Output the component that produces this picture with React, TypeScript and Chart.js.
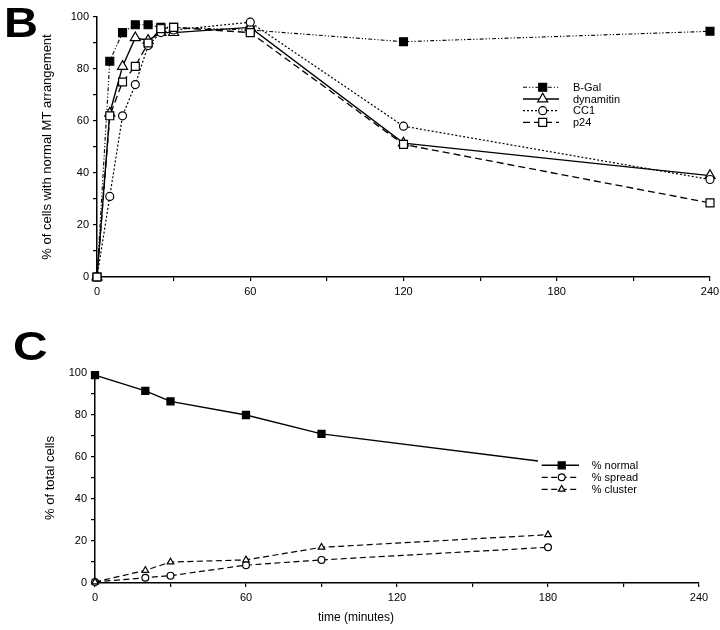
import React, { useEffect, useRef } from 'react';
import { Chart, registerables } from 'chart.js';

Chart.register(...registerables);

// ---------- Panel B data ----------
const timesB = [0, 5, 10, 15, 20, 25, 30, 60, 120, 240];
const bGal = [0, 83, 94, 97, 97, 96, 96, 95, 90.5, 94.5];
const dynamitin = [0, 63, 81, 92, 91, 94, 94, 96, 51.5, 39];
const cc1 = [0, 31, 62, 74, 89, 94, 95, 98, 58, 37.5];
const p24 = [0, 62, 75, 81, 90, 95.5, 96, 94, 51, 28.5];

// ---------- Panel C data ----------
const timesC = [0, 20, 30, 60, 90, 180];
const normal = [99, 91.5, 86.5, 80, 71, 57.5];
const spread = [0.5, 2.5, 3.5, 8.5, 11, 17];
const cluster = [0.5, 6, 10, 11, 17, 23];

// ---------- ticks ----------
const xLabelTicks = [0, 60, 120, 180, 240];
const yLabelTicks = [0, 20, 40, 60, 80, 100];

const FONT = '"Liberation Sans", Arial, Helvetica, sans-serif';

function pts(xs: number[], ys: number[]) {
  return xs.map((x, i) => ({ x, y: ys[i] }));
}

function drawMarker(ctx: CanvasRenderingContext2D, style: string, x: number, y: number, r: number, fill: string) {
  ctx.save();
  ctx.setLineDash([]);
  ctx.lineWidth = 1.2;
  ctx.strokeStyle = '#000';
  ctx.fillStyle = fill;
  ctx.beginPath();
  if (style === 'rect') {
    const s = Math.SQRT1_2 * r;
    ctx.rect(x - s, y - s, 2 * s, 2 * s);
  } else if (style === 'circle') {
    ctx.arc(x, y, r, 0, Math.PI * 2);
  } else if (style === 'triangle') {
    const h = r * 1.5;
    const w = r * Math.sqrt(3);
    ctx.moveTo(x, y - r);
    ctx.lineTo(x + w / 2, y - r + h);
    ctx.lineTo(x - w / 2, y - r + h);
    ctx.closePath();
  }
  ctx.fill();
  ctx.stroke();
  ctx.restore();
}

type LegendOpts = {
  box: [number, number, number, number];
  x0: number; x1: number; mx: number; tx: number; y0: number; dy: number; font: number;
};

function legendPlugin(o: LegendOpts) {
  return {
    id: 'customLegend',
    afterDatasetsDraw(chart: any) {
      const ctx: CanvasRenderingContext2D = chart.ctx;
      ctx.save();
      ctx.fillStyle = '#fff';
      ctx.fillRect(o.box[0], o.box[1], o.box[2], o.box[3]);
      chart.data.datasets.forEach((ds: any, i: number) => {
        const y = o.y0 + i * o.dy;
        ctx.strokeStyle = '#000';
        ctx.lineWidth = ds.borderWidth;
        ctx.setLineDash(ds.borderDash || []);
        ctx.beginPath();
        ctx.moveTo(o.x0, y);
        ctx.lineTo(o.x1, y);
        ctx.stroke();
        ctx.setLineDash([]);
        drawMarker(ctx, ds.pointStyle, o.mx, y, ds.pointRadius, ds.pointBackgroundColor);
        ctx.fillStyle = '#000';
        ctx.font = `${o.font}px ${FONT}`;
        ctx.textBaseline = 'middle';
        ctx.textAlign = 'left';
        ctx.fillText(ds.label, o.tx, y + 0.5);
      });
      ctx.restore();
    },
  };
}

function xTitlePlugin(text: string, cx: number, cy: number, size: number) {
  return {
    id: 'xTitle',
    afterDraw(chart: any) {
      const ctx: CanvasRenderingContext2D = chart.ctx;
      ctx.save();
      ctx.fillStyle = '#000';
      ctx.font = `${size}px ${FONT}`;
      ctx.textAlign = 'center';
      ctx.textBaseline = 'middle';
      ctx.fillText(text, cx, cy);
      ctx.restore();
    },
  };
}

function makeScales(yWidth: number, xHeight: number, yTitle: string, yTitlePad: number) {
  return {
    x: {
      type: 'linear',
      min: 0,
      max: 240,
      afterBuildTicks(scale: any) {
        const t = [];
        for (let v = 0; v <= 240; v += 30) t.push({ value: v });
        scale.ticks = t;
      },
      afterFit(scale: any) {
        scale.height = xHeight;
        scale.paddingLeft = 0;
        scale.paddingRight = 0;
        scale.paddingTop = 0;
        scale.paddingBottom = 0;
      },
      border: { display: true, color: '#000', width: 1.5 },
      grid: { display: true, drawOnChartArea: false, drawTicks: true, tickLength: 4, color: '#000', lineWidth: 1.2 },
      ticks: {
        autoSkip: false,
        maxRotation: 0,
        padding: 4,
        color: '#000',
        font: { family: FONT, size: 11 },
        callback: (v: number) => (xLabelTicks.includes(v) ? String(v) : ''),
      },
    },
    y: {
      type: 'linear',
      min: 0,
      max: 100,
      afterBuildTicks(scale: any) {
        const t = [];
        for (let v = 0; v <= 100; v += 10) t.push({ value: v });
        scale.ticks = t;
      },
      afterFit(scale: any) {
        scale.width = yWidth;
        scale.paddingLeft = 0;
        scale.paddingRight = 0;
        scale.paddingTop = 0;
        scale.paddingBottom = 0;
      },
      border: { display: true, color: '#000', width: 1.5 },
      grid: { display: true, drawOnChartArea: false, drawTicks: true, tickLength: 4, color: '#000', lineWidth: 1.2 },
      ticks: {
        autoSkip: false,
        padding: 4,
        color: '#000',
        font: { family: FONT, size: 11 },
        callback: (v: number) => (yLabelTicks.includes(v) ? String(v) : ''),
      },
      title: {
        display: true,
        text: yTitle,
        color: '#000',
        font: { family: FONT, size: 13 },
        padding: { top: yTitlePad, bottom: 0 },
      },
    },
  };
}

function ds(label: string, xs: number[], ys: number[], o: any) {
  return {
    label,
    data: pts(xs, ys),
    borderColor: '#000',
    pointBorderColor: '#000',
    pointBorderWidth: 1.2,
    clip: false,
    tension: 0,
    fill: false,
    ...o,
  };
}

function PanelB() {
  const ref = useRef<HTMLCanvasElement>(null);
  useEffect(() => {
    const chart = new Chart(ref.current!, {
      type: 'line',
      data: {
        datasets: [
          ds('B-Gal', timesB, bGal, { borderWidth: 1.1, borderDash: [4, 2, 1.2, 2, 1.2, 2], pointStyle: 'rect', pointRadius: 5.6, pointBackgroundColor: '#000', order: 3 }),
          ds('dynamitin', timesB, dynamitin, { borderWidth: 1.4, borderDash: [], pointStyle: 'triangle', pointRadius: 5.8, pointBackgroundColor: '#fff', order: 2 }),
          ds('CC1', timesB, cc1, { borderWidth: 1.2, borderDash: [2, 2], pointStyle: 'circle', pointRadius: 4, pointBackgroundColor: '#fff', order: 1 }),
          ds('p24', timesB, p24, { borderWidth: 1.3, borderDash: [7, 4], pointStyle: 'rect', pointRadius: 5.6, pointBackgroundColor: '#fff', order: 0 }),
        ],
      },
      options: {
        responsive: false,
        animation: false,
        events: [],
        layout: { padding: { left: 0, right: 10, top: 17, bottom: 0 } },
        plugins: { legend: { display: false }, tooltip: { enabled: false } },
        scales: makeScales(97, 33, '% of cells with normal MT arrangement', 40) as any,
      },
      plugins: [legendPlugin({ box: [520, 80, 100, 49], x0: 523, x1: 559, mx: 542.7, tx: 573, y0: 87.3, dy: 11.7, font: 11 })],
    } as any);
    return () => chart.destroy();
  }, []);
  return <canvas ref={ref} width={720} height={310} style={{ position: 'absolute', left: 0, top: 0, width: 720, height: 310 }} />;
}

function PanelC() {
  const ref = useRef<HTMLCanvasElement>(null);
  useEffect(() => {
    const chart = new Chart(ref.current!, {
      type: 'line',
      data: {
        datasets: [
          ds('% normal', timesC, normal, { borderWidth: 1.4, borderDash: [], pointStyle: 'rect', pointRadius: 5, pointBackgroundColor: '#000', order: 0 }),
          ds('% spread', timesC, spread, { borderWidth: 1.2, borderDash: [6, 3.5], pointStyle: 'circle', pointRadius: 3.4, pointBackgroundColor: '#fff', order: 2 }),
          ds('% cluster', timesC, cluster, { borderWidth: 1.2, borderDash: [6, 3.5], pointStyle: 'triangle', pointRadius: 3.8, pointBackgroundColor: '#fff', order: 1 }),
        ],
      },
      options: {
        responsive: false,
        animation: false,
        events: [],
        layout: { padding: { left: 0, right: 21, top: 53, bottom: 0 } },
        plugins: { legend: { display: false }, tooltip: { enabled: false } },
        scales: makeScales(95, 47, '% of total cells', 43) as any,
      },
      plugins: [
        legendPlugin({ box: [538, 137, 115, 40], x0: 541.7, x1: 579, mx: 561.7, tx: 591.7, y0: 145.3, dy: 12, font: 11 }),
        xTitlePlugin('time (minutes)', 356, 298, 12),
      ],
    } as any);
    return () => chart.destroy();
  }, []);
  return <canvas ref={ref} width={720} height={310} style={{ position: 'absolute', left: 0, top: 320, width: 720, height: 310 }} />;
}

export default function App() {
  const letter: React.CSSProperties = {
    position: 'absolute',
    fontFamily: FONT,
    fontWeight: 700,
    lineHeight: 1,
    color: '#000',
    transformOrigin: 'left top',
  };
  return (
    <div style={{ position: 'absolute', left: 0, top: 0, width: 720, height: 630, background: '#fff', overflow: 'hidden' }}>
      <PanelB />
      <PanelC />
      <div style={{ ...letter, left: 4, top: 1.5, fontSize: 42, transform: 'scaleX(1.12)' }}>B</div>
      <div style={{ ...letter, left: 13, top: 325.5, fontSize: 40, transform: 'scaleX(1.2)' }}>C</div>
    </div>
  );
}
